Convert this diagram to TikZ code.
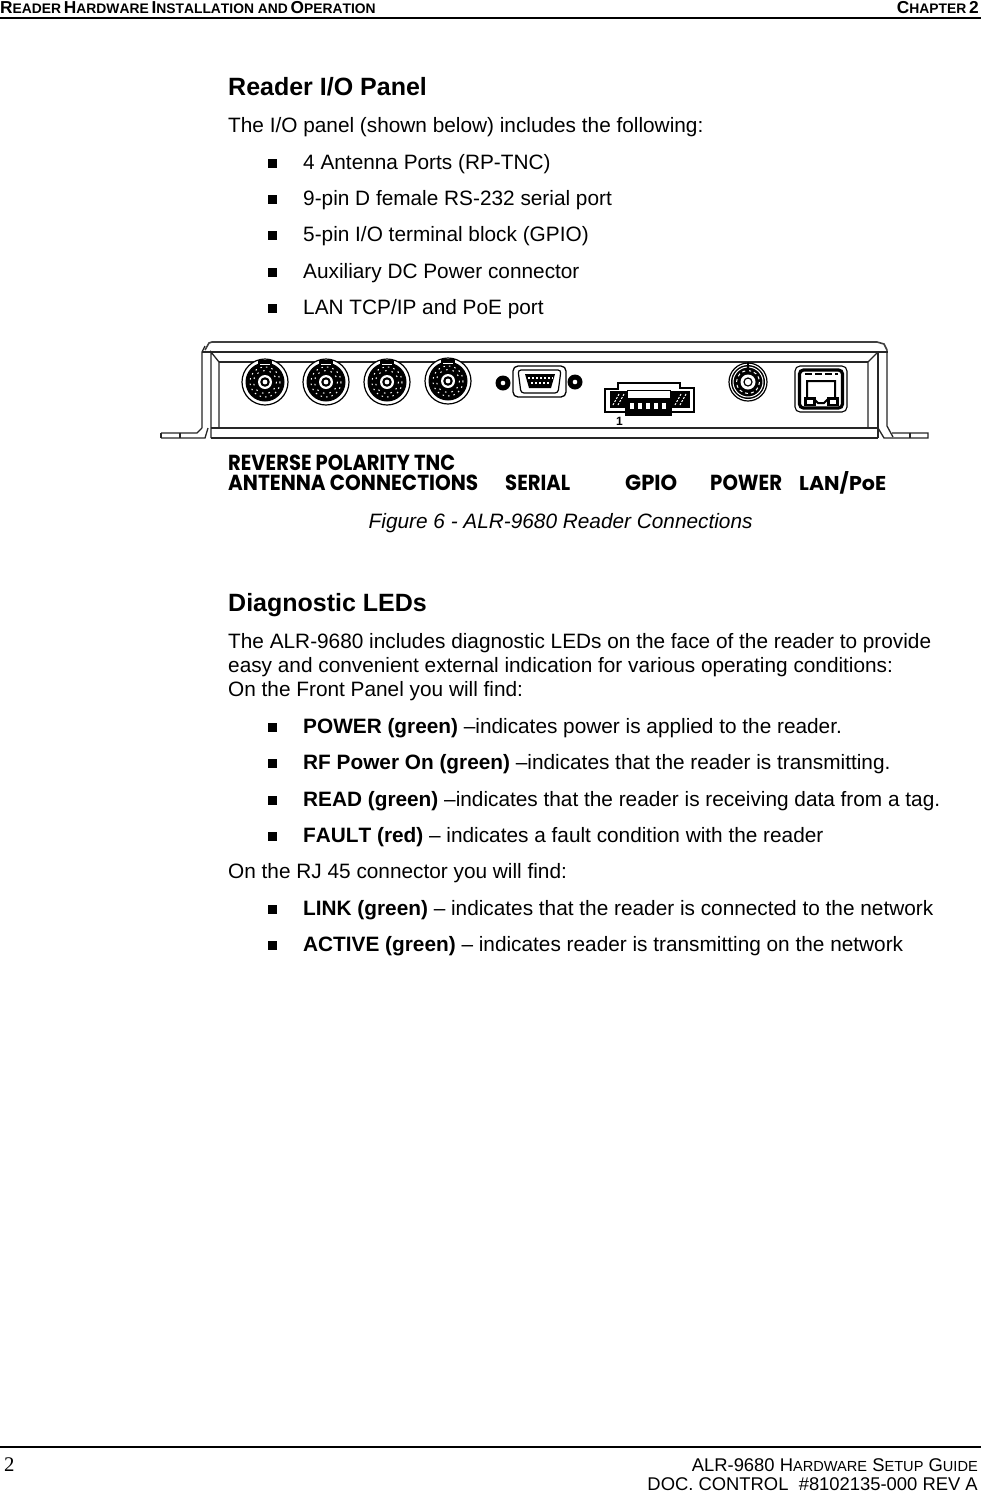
\documentclass[tikz,border=0pt]{standalone}
\usepackage{fontspec}
\usepackage{graphicx}
\setmainfont[BoldFeatures={Kerning=Off}]{Liberation Sans}
\newfontfamily\timesfont{Liberation Serif}
\newfontfamily\labelfont{Poppins}
\newcommand{\bodyfs}{\fontsize{20.8}{24}\selectfont}
\newcommand{\hdrbig}[1]{{\fontsize{17.3}{18}\selectfont #1}}
\newcommand{\hdrsm}[1]{{\fontsize{13.85}{18}\selectfont #1}}
\newcommand{\ftrsm}[1]{{\fontsize{14.6}{18}\selectfont #1}}
\newcommand{\fitlabel}[3]{\resizebox{#1pt}{#2pt}{\labelfont\bfseries #3}}
\tikzset{
  x=1pt,y=-1pt,
  body/.style={anchor=base west,inner sep=0pt,font=\bodyfs,text=black},
  heading/.style={anchor=base west,inner sep=0pt,font=\fontsize{25}{28}\selectfont\bfseries},
  hdr/.style={inner sep=0pt,font=\bfseries},
  ftr/.style={anchor=base east,inner sep=0pt,font=\fontsize{18.4}{22}\selectfont},
  panel/.style={anchor=base west,inner sep=0pt,text=black},
  rulel/.style={line width=1.2pt,black},
  outline/.style={line width=1.3pt,black!85},
  bulletbox/.style={draw=none,fill=black,minimum size=9pt,inner sep=0pt}
}
\newcommand{\bul}[2]{\node[bulletbox] (b#1) at (272,#2-6) {};}
\newcommand{\antenna}[2]{%
  \draw[line width=1.2pt,fill=white] (#1,#2) circle (23);
  \fill[black] (#1,#2) circle (19.5);
  \fill[black] (#1-7,#2-22) rectangle (#1+7,#2-17);
  \draw[white,line width=1pt,dash pattern=on 1.5pt off 4pt] (#1,#2) circle (15);
  \draw[white,line width=1pt,dash pattern=on 1.5pt off 5pt] (#1,#2) circle (11.5);
  \fill[white] (#1,#2) circle (7);
  \fill[black] (#1,#2) circle (4.8);
  \fill[white] (#1,#2) circle (2.4);
  \draw[white,line width=1.1pt] (#1-5,#2-17.5) -- (#1+5,#2-17.5);
}
\begin{document}
\begin{tikzpicture}
\useasboundingbox (0,0) rectangle (981,1492);
\fill[white] (0,0) rectangle (981,1492);
% header
\coordinate (hl) at (0,18); \coordinate (hr) at (981,18);
\draw[rulel] (hl) -- (hr);
\node[hdr,anchor=base west] (h1) at (0,13) {\hdrbig{R}\hdrsm{EADER} \hdrbig{H}\hdrsm{ARDWARE} \hdrbig{I}\hdrsm{NSTALLATION AND} \hdrbig{O}\hdrsm{PERATION}};
\node[hdr,anchor=base east] (h2) at (979,13) {\hdrbig{C}\hdrsm{HAPTER} \hdrbig{2}};
% section 1
\node[heading] (t1) at (228,95) {Reader I/O Panel};
\node[body] (p1) at (228,132) {The I/O panel (shown below) includes the following:};
\bul{1}{169}\node[body] (i1) at (303,169) {4 Antenna Ports (RP-TNC)};
\bul{2}{205}\node[body] (i2) at (303,205) {9-pin D female RS-232 serial port};
\bul{3}{241}\node[body] (i3) at (303,241) {5-pin I/O terminal block (GPIO)};
\bul{4}{278}\node[body] (i4) at (303,278) {Auxiliary DC Power connector};
\bul{5}{314}\node[body] (i5) at (303,314) {LAN TCP/IP and PoE port};
% device body
\draw[outline] (211,438) -- (878,438);
\draw[outline] (211,428) -- (878,428);
\draw[outline] (202,352) -- (888,352);
\draw[outline] (219,362) -- (868,362);
\draw[line width=1.6pt,black!75] (205,350) -- (209,343) -- (212,342) -- (877,342) -- (884,344) -- (887,350);
\draw[outline] (202,428) -- (202,352) -- (205,346);
\draw[outline] (211,438) -- (211,352) -- (219,362) -- (219,428);
\draw[outline] (868,428) -- (868,362) -- (878,352);
\draw[outline] (878,438) -- (878,352);
\draw[outline] (887,350) -- (887,426) -- (893,437);
\draw[outline] (161,433) -- (197,433) -- (202,428);
\draw[outline] (161,433) -- (161,438);
\draw[outline] (161,438) -- (205,438) -- (208,428);
\draw[outline] (180,433) -- (180,438);
\draw[outline] (892,433) -- (928,433) -- (928,438) -- (884,438) -- (878,428);
\draw[outline] (910,433) -- (910,438);
% antenna connectors
\antenna{265}{382}
\antenna{326}{382}
\antenna{387}{382}
\antenna{448}{381}
% serial
\fill[black] (503,383) circle (7.5); \fill[white] (503,383) circle (2.3);
\fill[black] (575,382) circle (7.5); \fill[white] (575,382) circle (2.3);
\draw[line width=1.3pt,fill=white,rounded corners=5pt] (513,366) -- (566,366) -- (566,397) -- (513,397) -- cycle;
\draw[line width=1.2pt,rounded corners=3pt] (518,370) -- (561,370) -- (558,393) -- (521,393) -- cycle;
\fill[black] (525,374) -- (555,374) -- (551,388) -- (529,388) -- cycle;
\draw[white,line width=1.3pt,dash pattern=on 2pt off 2pt] (528,378) -- (553,378);
\draw[white,line width=1.3pt,dash pattern=on 2pt off 2pt] (531,383) -- (550,383);
% GPIO
\draw[line width=1.1pt,fill=white] (605,389) -- (618,389) -- (618,383) -- (680,383) -- (680,388) -- (694,388) -- (694,412) -- (605,412) -- cycle;
\fill[black] (610,391) rectangle (627,408);
\fill[black] (670,391) rectangle (690,408);
\fill[black] (625,398) rectangle (672,416);
\draw[line width=1pt] (627,390) rectangle (670,398);
\foreach \ex in {613,618,675,680}{\draw[white,line width=1pt,dash pattern=on 2pt off 1.5pt] (\ex,405) -- (\ex+6,394);}
\foreach \gx in {630,638,646,654,662}{\fill[white] (\gx,403) rectangle (\gx+3.5,409);}
\node[panel,font=\fontsize{12}{12}\selectfont\bfseries] (one) at (616,425) {1};
% power
\draw[line width=1.2pt,fill=white] (748,382) circle (19);
\fill[black] (748,382) circle (17);
\draw[white,line width=1pt] (748,382) circle (15);
\draw[white,line width=1pt,dash pattern=on 3pt off 3pt] (748,382) circle (11.5);
\fill[white] (748,382) circle (7.5);
\draw[line width=1.2pt] (748,382) circle (4);
\draw[line width=1.2pt] (748,362) -- (748,372);
% LAN
\draw[line width=1.1pt,rounded corners=5pt] (795,366) rectangle (847,412);
\draw[line width=3.2pt,rounded corners=4pt,fill=white] (799.5,370) rectangle (842.5,408);
\draw[line width=1.4pt,dash pattern=on 7pt off 3pt] (805,374) -- (838,374);
\draw[line width=2pt] (807,381) -- (835,381) -- (835,399) -- (828,399) -- (824,403) -- (818,403) -- (814,399) -- (807,399) -- cycle;
\fill[black] (804,397) rectangle (816,406);
\fill[black] (827,397) rectangle (839,406);
\fill[white] (807,400) rectangle (813,404);
\fill[white] (830,400) rectangle (836,404);
% panel labels
\node[panel] (l1) at (228,470) {\fitlabel{227}{15.5}{REVERSE POLARITY TNC}};
\node[panel] (l2) at (228,490) {\fitlabel{250}{15.5}{ANTENNA CONNECTIONS}};
\node[panel] (l3) at (505,490) {\fitlabel{65}{15.5}{SERIAL}};
\node[panel] (l4) at (625,490) {\fitlabel{52}{15.5}{GPIO}};
\node[panel] (l5) at (710,490) {\fitlabel{72}{15.5}{POWER}};
\node[panel] (l6) at (799,490) {\fitlabel{87}{19}{LAN/PoE}};
\node[body,font=\bodyfs\itshape] (cap) at (368.5,528) {Figure 6 - ALR-9680 Reader Connections};
% section 2
\node[heading] (t2) at (228,611) {Diagnostic LEDs};
\node[body] (p2) at (228,648) {The ALR-9680 includes diagnostic LEDs on the face of the reader to provide};
\node[body] (p3) at (228,672) {easy and convenient external indication for various operating conditions:};
\node[body] (p4) at (228,696) {On the Front Panel you will find:};
\bul{6}{733}\node[body] (j1) at (303,733) {\textbf{POWER (green)} –indicates power is applied to the reader.};
\bul{7}{769}\node[body] (j2) at (303,769) {\textbf{RF Power On (green)} –indicates that the reader is transmitting.};
\bul{8}{806}\node[body] (j3) at (303,806) {\textbf{READ (green)} –indicates that the reader is receiving data from a tag.};
\bul{9}{842}\node[body] (j4) at (303,842) {\textbf{FAULT (red)} – indicates a fault condition with the reader};
\node[body] (p5) at (228,878) {On the RJ 45 connector you will find:};
\bul{10}{915}\node[body] (j5) at (303,915) {\textbf{LINK (green)} – indicates that the reader is connected to the network};
\bul{11}{951}\node[body] (j6) at (303,951) {\textbf{ACTIVE (green)} – indicates reader is transmitting on the network};
% footer
\coordinate (fl) at (0,1447); \coordinate (fr) at (981,1447);
\draw[rulel] (fl) -- (fr);
\node[body,font=\bodyfs\timesfont] (pg) at (4,1471) {2};
\node[ftr] (f1) at (978,1471) {ALR-9680 H\ftrsm{ARDWARE} S\ftrsm{ETUP} G\ftrsm{UIDE}};
\node[ftr] (f2) at (978,1490) {DOC. CONTROL\ \ \#8102135-000 REV A};
\end{tikzpicture}
\end{document}
